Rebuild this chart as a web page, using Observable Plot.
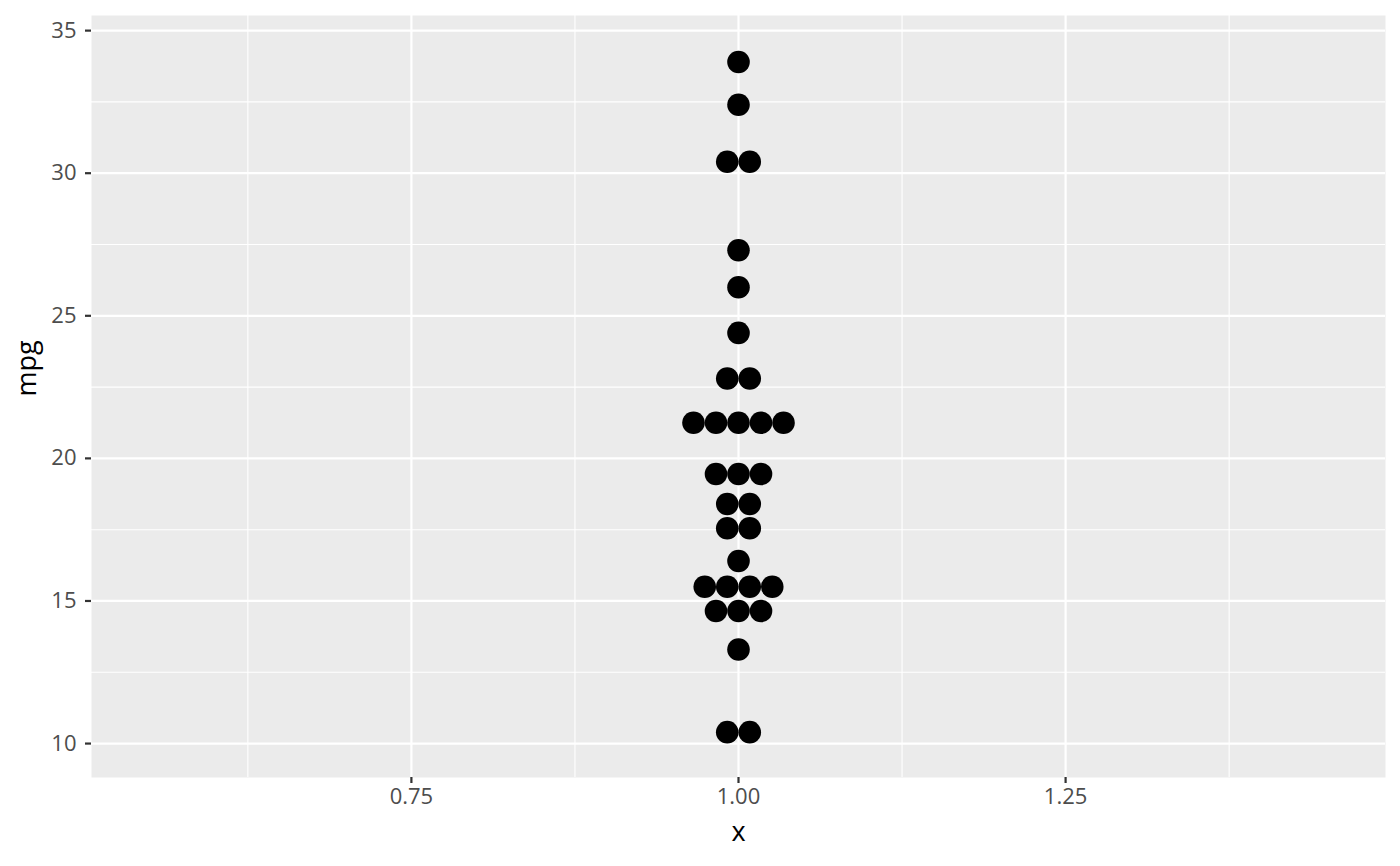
<!DOCTYPE html>
<html>
<head>
<meta charset="utf-8">
<script src="https://cdn.jsdelivr.net/npm/d3@7"></script>
<script src="https://cdn.jsdelivr.net/npm/@observablehq/plot@0.6"></script>
<style>
  html, body { margin: 0; padding: 0; background: #fff; }
  #chart svg { display: block; }
</style>
</head>
<body>
<div id="chart"></div>
<script>
// Bin centres (mpg) and number of cars stacked in each bin
const binCenters = [33.9, 32.4, 30.4, 27.3, 26.0, 24.4, 22.8, 21.25, 19.45, 18.4, 17.55, 16.4, 15.5, 14.65, 13.3, 10.4];
const binCounts  = [1,    1,    2,    1,    1,    1,    2,    5,     3,     2,    2,     1,    4,    3,     1,    2];
const xTicks = [0.75, 1.00, 1.25];
const xMinor = [0.625, 0.875, 1.125, 1.375];
const yTicks = [10, 15, 20, 25, 30, 35];
const yMinor = [12.5, 17.5, 22.5, 27.5, 32.5];
const stackStep = 0.0172; // spacing between stacked dots, in x units (one dot diameter)

const dots = [];
binCenters.forEach((c, i) => {
  const n = binCounts[i];
  for (let k = 0; k < n; k++) dots.push({x: 1 + (k - (n - 1) / 2) * stackStep, mpg: c});
});

const font = "'Open Sans', 'Noto Sans', sans-serif";
const chart = Plot.plot({
  width: 1400,
  height: 866,
  marginLeft: 91,
  marginRight: 15,
  marginTop: 15,
  marginBottom: 89,
  style: {fontFamily: font, background: "#fff"},
  x: {domain: [0.5055, 1.4945]},
  y: {domain: [8.81, 35.53]},
  marks: [
    Plot.frame({fill: "#ebebeb", stroke: null}),
    Plot.ruleX(xMinor, {stroke: "#fff", strokeWidth: 1.1}),
    Plot.ruleY(yMinor, {stroke: "#fff", strokeWidth: 1.1}),
    Plot.ruleX(xTicks, {stroke: "#fff", strokeWidth: 2.2}),
    Plot.ruleY(yTicks, {stroke: "#fff", strokeWidth: 2.2}),
    Plot.dot(dots, {x: "x", y: "mpg", r: 11.3, fill: "#000", stroke: null}),
    Plot.axisY({ticks: yTicks, tickSize: 6, tickPadding: 9, stroke: "#333", strokeWidth: 2.2, fill: "#4d4d4d", fontSize: 22, tickFormat: d3.format("d"), label: null}),
    Plot.axisX({ticks: xTicks, tickSize: 6, tickPadding: 5, stroke: "#333", strokeWidth: 2.2, fill: "#4d4d4d", fontSize: 22, tickFormat: d3.format(".2f"), label: null}),
    // axis titles
    Plot.text(["mpg"], {frameAnchor: "left", dx: -64, rotate: -90, fontSize: 27, fill: "#000"}),
    Plot.text(["x"], {frameAnchor: "bottom", dy: 63, fontSize: 27, fill: "#000"})
  ]
});
document.getElementById("chart").appendChild(chart);
</script>
</body>
</html>
